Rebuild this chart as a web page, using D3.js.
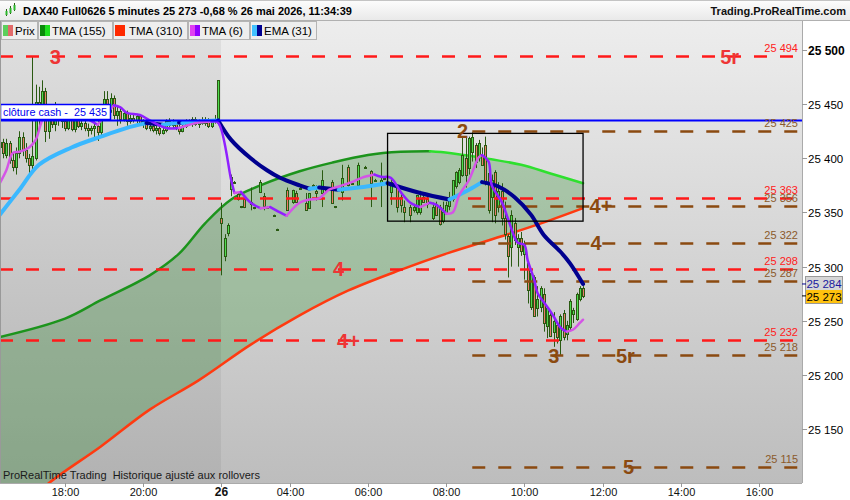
<!DOCTYPE html>
<html><head><meta charset="utf-8">
<script src="https://cdn.jsdelivr.net/npm/d3@7"></script>
<style>body{margin:0;background:#fff;} svg{display:block;font-family:"Liberation Sans",Arial,sans-serif;} text.pre{white-space:pre;}</style>
</head><body><svg id="c" width="850" height="500"></svg>
<script>
// ---------------- DATA ----------------
const firstBar = -20; // bar index of first candle (5-minute bars, 18:00 = bar 0)
const candles = [
[25410,25420,25395,25415],[25415,25418,25400,25405],[25403,25418,25400,25414],[25414,25416,25395,25398],
[25398,25405,25388,25392],[25392,25410,25385,25405],[25405,25425,25400,25420],[25420,25424,25402,25408],
[25408,25414,25396,25400],[25400,25404,25382,25394],[25394,25494,25388,25402],[25400,25468,25398,25452],
[25452,25466,25430,25440],[25440,25472,25436,25462],[25462,25465,25415,25425],[25425,25450,25418,25445],
[25445,25448,25428,25432],[25432,25452,25425,25448],[25448,25450,25430,25436],[25436,25440,25428,25434],
[25434,25438,25425,25428],[25428,25440,25426,25438],[25438,25440,25425,25427],[25427,25438,25424,25436],
[25436,25437,25428,25430],[25430,25436,25426,25433],[25433,25435,25425,25428],[25428,25432,25420,25426],
[25426,25430,25422,25428],[25428,25434,25418,25430],[25430,25435,25416,25424],[25424,25440,25420,25438],
[25438,25462,25436,25455],[25455,25462,25440,25447],[25447,25460,25442,25456],[25456,25458,25436,25440],
[25440,25448,25430,25444],[25444,25446,25432,25436],[25436,25444,25434,25442],[25442,25444,25430,25434],
[25434,25440,25432,25437],[25437,25440,25433,25435],[25435,25441,25432,25439],[25439,25440,25430,25432],
[25432,25436,25428,25434],[25434,25436,25426,25428],[25428,25434,25425,25430],[25430,25432,25424,25426],
[25426,25430,25422,25428],[25428,25430,25421,25423],[25423,25428,25422,25426],[25426,25436,25424,25434],
[25434,25437,25429,25431],[25431,25436,25428,25433],[25433,25434,25426,25428],[25428,25431,25422,25425],
[25425,25432,25424,25430],[25430,25436,25428,25434],[25434,25436,25430,25432],[25432,25438,25429,25436],
[25436,25438,25430,25432],[25432,25436,25428,25434],[25434,25438,25431,25433],[25433,25438,25430,25436],
[25436,25437,25428,25430],[25430,25436,25428,25434],[25434,25440,25432,25436],[25436,25472,25434,25472],
// day 26
[25345,25359,25292,25340],[25310,25330,25305,25326],[25331,25340,25328,25338],[25372,25385,25365,25383],
[25378,25379,25377,25378],[25367,25368,25361,25362],[25356,25356,25354,25355],[25362,25363,25354,25355],
null,[25360,25373,25352,25358],[25355,25355,25353,25354],null,
[25369,25380,25368,25378],[25365,25368,25352,25356],[25355,25356,25354,25355],null,
[25348,25348,25346,25347],[25335,25335,25333,25334],null,null,
[25371,25373,25352,25352],null,[25360,25371,25358,25371],[25368,25370,25360,25360],
[25373,25374,25372,25373],null,[25359,25368,25352,25352],[25354,25368,25354,25368],
[25375,25376,25374,25375],[25370,25375,25361,25368],null,[25368,25389,25355,25380],
[25371,25372,25370,25371],null,[25378,25380,25359,25359],[25356,25356,25354,25355],
null,[25369,25394,25361,25382],null,[25392,25394,25374,25375],
[25377,25378,25376,25377],null,[25375,25396,25374,25394],null,
[25392,25393,25391,25392],null,[25388,25389,25355,25377],[25380,25381,25379,25380],
null,[25376,25396,25355,25380],[25382,25383,25381,25382],null,
[25369,25382,25357,25378],null,[25373,25376,25350,25355],[25364,25369,25350,25357],
[25355,25361,25341,25350],null,[25355,25357,25341,25348],[25352,25358,25350,25355],
[25350,25366,25348,25366],[25350,25370,25348,25362],[25364,25366,25360,25360],[25362,25368,25354,25358],
null,[25345,25359,25343,25355],[25358,25360,25347,25348],[25355,25357,25338,25339],
[25342,25360,25340,25350],[25350,25360,25348,25357],[25356,25369,25352,25362],[25362,25380,25360,25380],
[25374,25388,25372,25387],[25378,25391,25376,25389],[25385,25419,25383,25403],[25400,25419,25373,25385],
[25391,25420,25385,25419],[25406,25424,25397,25420],[25412,25414,25391,25397],[25403,25417,25397,25414],
[25403,25410,25393,25394],[25412,25420,25375,25378],[25386,25391,25349,25352],[25364,25385,25341,25380],
[25387,25389,25340,25348],[25355,25378,25350,25370],[25370,25377,25338,25345],[25345,25360,25325,25330],
[25328,25330,25290,25310],[25318,25352,25300,25348],[25340,25345,25320,25325],[25318,25330,25300,25326],
[25326,25332,25310,25314],[25312,25324,25288,25322],[25303,25306,25266,25278],[25263,25294,25260,25294],
[25290,25292,25254,25254],[25262,25282,25254,25270],[25263,25282,25258,25280],[25275,25280,25240,25248],
[25245,25263,25234,25262],[25255,25258,25235,25236],[25240,25258,25226,25250],[25246,25248,25229,25235],
[25232,25256,25218,25254],[25257,25260,25232,25235],[25238,25250,25232,25246],[25244,25270,25241,25268],
[25256,25262,25248,25260],[25252,25276,25250,25275],[25270,25282,25268,25280],[25280,25282,25271,25273]
];

// indicators: [bar, value]
const tma155 = [[-20,25235],[0,25252],[11,25269],[26,25292],[35,25312],[43,25340],[51,25362],[60,25375],
  [72,25388],[82,25396],[93,25403],[103,25406],[112,25406.5],[118,25405],[127,25401],[140,25394],[149,25386],[159,25377]];
const tma310 = [[-20,25064],[-11,25082],[-5,25100],[11,25134],[26,25168],[41,25195],[57,25228],[72,25255],
  [87,25278],[103,25297],[118,25313],[134,25328],[149,25343],[159,25354]];
const ema31 = [[-20,25348],[-14,25371],[-8,25394],[2,25410],[11,25420],[20,25429],[25,25432.5],[30,25431],
  [35,25433],[36,25432.5],[41,25434],[47,25435],[51,25417],[57,25400],[62,25389],[66,25382],[72,25375],
  [75,25372],[78,25373],[84,25371],[90,25373],[99,25377],[109,25368],[118,25362],[124,25371],[128,25378],
  [133,25374],[138,25364],[143,25348],[147,25329],[152,25314],[155,25303],[159,25284]];
const tma6 = [[-20,25377],[-18,25389],[-16,25405],[-14,25406],[-11,25410],[-9,25417],[-7,25435],[-5,25443],
  [1,25446],[6,25438],[10,25431],[13,25442],[15,25449],[17,25447],[19,25442],[23,25440],[26,25435],[31,25428],
  [35,25428],[41,25433],[45,25434],[47,25433],[51,25380],[52,25368],[54,25369],[57,25359],[60,25354],[63,25355],
  [66,25350],[68,25347],[72,25359],[75,25362],[78,25363],[81,25371],[84,25374],[88,25378],[91,25382],[95,25385],
  [97,25383],[100,25382],[103,25369],[106,25359],[109,25355],[112,25359],[114,25357],[117,25349],[119,25350],
  [121,25366],[124,25380],[127,25401],[128,25403],[130,25397],[131,25375],[134,25360],[136,25344],[138,25327],
  [139,25322],[141,25320],[142,25306],[144,25288],[145,25276],[148,25263],[150,25254],[152,25244],[154,25240],
  [156,25242],[158,25248],[159,25251]];

// horizontal levels
const redLevels = [25494, 25363, 25298, 25232];
const redTags = [[["3",-3],["5r",204]], [], [["4",84]], [["4+",87]]];
const brownLevels = [25425, 25356, 25322, 25287, 25218, 25115];
const brownTags = [[["2",122]], [["4+",164.5]], [["4",163]], [], [["3",150],["5r",172]], [["5",173]]];
const brownStartBar = 125;
const cashClose = 25435;
const lastEma = 25284, lastPrice = 25273;
const boxBars = [99, 159], boxPrices = [25423, 25342];
const priceTicks = [25150, 25200, 25250, 25300, 25350, 25400, 25450, 25500];
const timeTickBars = [0, 24, 48, 69, 93, 117, 141, 165, 189, 213];
const timeTickLabels = ["18:00","20:00","26","04:00","06:00","08:00","10:00","12:00","14:00","16:00"];
const dayStartBar = 48;
const legendNames = ["Prix","TMA (155)","TMA (310)","TMA (6)","EMA (31)"];
const legendColors = [["#5ccf5c","#e26a6a"],["#0a8a0a","#1ee01e"],["#ff2a00"],["#e040f0","#9000ff"],["#40c0ff","#000090"]];
const title = "DAX40 Full0626 5 minutes 25 273 -0,68 % 26 mai 2026, 11:34:39";

// ---------------- DRAW ----------------
const svg = d3.select("#c");
const PR = 802, PT = 21, PB = 483;
const xs = d3.scaleLinear().domain([-19.95, 226.2]).range([0, 802]);
const ys = d3.scaleLinear().domain([25100.3, 25509.2]).range([483, 40]);
const loc = d3.formatLocale({decimal:",", thousands:" ", grouping:[3], currency:["",""]});
const fmt = loc.format(",d");

const defs = svg.append("defs");
const g1 = defs.append("linearGradient").attr("id","bg").attr("x1",0).attr("y1",0).attr("x2",0).attr("y2",1);
g1.append("stop").attr("offset","0%").attr("stop-color","#ededed");
g1.append("stop").attr("offset","100%").attr("stop-color","#bdbdbd");
const g2 = defs.append("linearGradient").attr("id","hd").attr("x1",0).attr("y1",0).attr("x2",0).attr("y2",1);
g2.append("stop").attr("offset","0%").attr("stop-color","#fdfdfd");
g2.append("stop").attr("offset","100%").attr("stop-color","#e9e9e9");
defs.append("clipPath").attr("id","clip").append("rect").attr("x",0).attr("y",PT).attr("width",PR).attr("height",PB-PT);

svg.append("rect").attr("width",850).attr("height",500).attr("fill","#fff");
// plot bg
svg.append("rect").attr("x",0).attr("y",PT).attr("width",PR).attr("height",PB-PT).attr("fill","url(#bg)");

const plot = svg.append("g").attr("clip-path","url(#clip)");
const curve = d3.curveCatmullRom.alpha(0.5);
const line = d3.line().x(d=>xs(d[0])).y(d=>ys(d[1])).curve(curve);

// cloud fill between TMA155 and TMA310
const cloudPath = line(tma155) + "L" + line(tma310.slice().reverse()).slice(1) + "Z";
plot.append("path").attr("d", cloudPath).attr("fill","#2f8f2f").attr("fill-opacity",0.3);

// previous session shading
plot.append("rect").attr("x",0).attr("y",PT).attr("width",Math.round(xs(dayStartBar))).attr("height",PB-PT)
  .attr("fill","#000").attr("fill-opacity",0.055);

function runs(pts){
  const out=[]; let cur=null; let prevUp=true;
  for(let k=1;k<pts.length;k++){
    const d=pts[k][1]-pts[k-1][1];
    const up = d>0 ? true : d<0 ? false : prevUp;
    if(!cur || cur.up!==up){ cur={up, pts:[pts[k-1]]}; out.push(cur); }
    cur.pts.push(pts[k]); prevUp=up;
  }
  return out;
}
function dirLine(pts, upC, dnC, w){
  runs(pts).forEach(r=>{
    plot.append("path").attr("d",line(r.pts)).attr("fill","none").attr("stroke", r.up?upC:dnC)
      .attr("stroke-width",w).attr("stroke-linecap","round").attr("stroke-linejoin","round");
  });
}

// TMA 310 & 155
plot.append("path").attr("d",line(tma310)).attr("fill","none").attr("stroke","#ff3a10").attr("stroke-width",2.5);
dirLine(tma155, "#1c941c", "#2ee02e", 2.5);

// candles
const cg = plot.append("g");
candles.forEach((c,k)=>{
  if(!c) return;
  const [o,h,l,cl] = c;
  const cx = Math.round(xs(firstBar+k));
  cg.append("line").attr("x1",cx+0.5).attr("x2",cx+0.5).attr("y1",ys(h)).attr("y2",ys(l))
    .attr("stroke","#2a5a12").attr("stroke-width",1);
  const top = Math.round(ys(Math.max(o,cl))), bot = Math.round(ys(Math.min(o,cl)));
  cg.append("rect").attr("x",cx-1+0.5).attr("y",top+0.5).attr("width",2).attr("height",Math.max(bot-top,1))
    .attr("fill", cl>=o ? "#4fdc4f" : "#ec7a6a").attr("stroke","#2a5a12").attr("stroke-width",1);
});

// horizontal levels
redLevels.forEach(v=>{
  plot.append("line").attr("x1",0).attr("x2",PR).attr("y1",Math.round(ys(v))+0.5).attr("y2",Math.round(ys(v))+0.5)
    .attr("stroke","#ff1a1a").attr("stroke-width",2.6).attr("stroke-dasharray","13,13");
});
brownLevels.forEach(v=>{
  plot.append("line").attr("x1",xs(brownStartBar)).attr("x2",PR).attr("y1",Math.round(ys(v))+0.5).attr("y2",Math.round(ys(v))+0.5)
    .attr("stroke","#8b4a10").attr("stroke-width",2.6).attr("stroke-dasharray","13,13");
});

// EMA 31 and TMA 6
dirLine(ema31, "#3ab8ff", "#00008f", 4);
dirLine(tma6, "#d455e6", "#9020ff", 2.5);

// cash close line
plot.append("line").attr("x1",0).attr("x2",PR).attr("y1",ys(cashClose)).attr("y2",ys(cashClose))
  .attr("stroke","#0000ff").attr("stroke-width",2);

// box
plot.append("rect").attr("x",xs(boxBars[0])).attr("y",ys(boxPrices[0]))
  .attr("width",xs(boxBars[1])-xs(boxBars[0])).attr("height",ys(boxPrices[1])-ys(boxPrices[0]))
  .attr("fill","none").attr("stroke","#000").attr("stroke-width",1.3);

// level tags
function tag(t, bar, v, col){
  plot.append("text").attr("x",xs(bar)).attr("y",ys(v)).attr("dy","0.36em").attr("text-anchor","middle")
    .attr("font-size",20).attr("font-weight","bold").attr("fill",col).text(t);
}
redLevels.forEach((v,i)=>redTags[i].forEach(([t,b])=>tag(t,b,v,"#ee3535")));
brownLevels.forEach((v,i)=>brownTags[i].forEach(([t,b])=>tag(t,b,v,"#8b4a10")));

// right-side level values
redLevels.forEach(v=>svg.append("text").attr("x",798).attr("y",Math.round(ys(v))-4).attr("text-anchor","end")
  .attr("font-size",11).attr("fill","#ff2020").text(fmt(v)));
brownLevels.forEach(v=>svg.append("text").attr("x",798).attr("y",Math.round(ys(v))-4).attr("text-anchor","end")
  .attr("font-size",11).attr("fill","#8b5a2b").text(fmt(v)));

// cash close label
svg.append("rect").attr("x",0.5).attr("y",104.5).attr("width",110).attr("height",15).attr("fill","#fff")
  .attr("stroke","#0000ff").attr("stroke-width",1.5);
svg.append("text").attr("class","pre").attr("x",3).attr("y",116).attr("font-size",11.5).attr("fill","#0000ee")
  .attr("textLength",104).attr("lengthAdjust","spacingAndGlyphs")
  .text("clôture cash -  " + fmt(cashClose));

// left border
svg.append("line").attr("x1",0.5).attr("x2",0.5).attr("y1",PT).attr("y2",PB).attr("stroke","#999");

// right axis
svg.append("rect").attr("x",PR).attr("y",PT).attr("width",850-PR).attr("height",PB-PT).attr("fill","#fff");
svg.append("line").attr("x1",PR+0.5).attr("x2",PR+0.5).attr("y1",PT).attr("y2",PB).attr("stroke","#aaa");
priceTicks.forEach(v=>{
  const y = Math.round(ys(v))+0.5;
  svg.append("line").attr("x1",PR).attr("x2",PR+5).attr("y1",y).attr("y2",y).attr("stroke","#999");
  svg.append("text").attr("x",808).attr("y",y+4).attr("font-size",v===25500?12:11.5)
    .attr("font-weight",v===25500?"bold":"normal").attr("fill","#000").text(fmt(v));
});
// price boxes
svg.append("rect").attr("x",805.5).attr("y",276.5).attr("width",37).attr("height",27).attr("fill","none").attr("stroke","#999");
svg.append("rect").attr("x",806).attr("y",277).attr("width",36).attr("height",13).attr("fill","#d6d6d6");
svg.append("rect").attr("x",806).attr("y",290).attr("width",36).attr("height",13).attr("fill","#ffc20e");
svg.append("line").attr("x1",PR).attr("x2",806).attr("y1",ys(lastEma)).attr("y2",ys(lastEma)).attr("stroke","#00008f");
svg.append("line").attr("x1",PR).attr("x2",806).attr("y1",ys(lastPrice)).attr("y2",ys(lastPrice)).attr("stroke","#000");
svg.append("text").attr("x",824).attr("y",287.5).attr("text-anchor","middle").attr("font-size",11.5).attr("fill","#1a1aa0").text(fmt(lastEma));
svg.append("text").attr("x",824).attr("y",300.5).attr("text-anchor","middle").attr("font-size",11.5).attr("fill","#000").text(fmt(lastPrice));

// x axis
svg.append("rect").attr("x",0).attr("y",PB).attr("width",850).attr("height",500-PB).attr("fill","#fff");
svg.append("line").attr("x1",0).attr("x2",PR).attr("y1",PB+0.5).attr("y2",PB+0.5).attr("stroke","#aaa");
timeTickBars.forEach((b,i)=>{
  const x = Math.round(xs(b))+0.5;
  svg.append("line").attr("x1",x).attr("x2",x).attr("y1",PB).attr("y2",PB+4).attr("stroke","#999");
  svg.append("text").attr("x",x).attr("y",496).attr("text-anchor","middle")
    .attr("font-size",timeTickLabels[i]==="26"?12:11).attr("font-weight",timeTickLabels[i]==="26"?"bold":"normal")
    .attr("fill","#111").text(timeTickLabels[i]);
});
svg.append("text").attr("class","pre").attr("x",3).attr("y",479).attr("font-size",11).attr("fill","#1a1a1a")
  .text("ProRealTime Trading  Historique ajusté aux rollovers");

// header
svg.append("rect").attr("x",0).attr("y",0).attr("width",850).attr("height",20).attr("fill","url(#hd)");
svg.append("line").attr("x1",0).attr("x2",850).attr("y1",0.5).attr("y2",0.5).attr("stroke","#c4c4c4");
svg.append("line").attr("x1",0).attr("x2",850).attr("y1",20.5).attr("y2",20.5).attr("stroke","#b0b0b0");
// icon
const ic = svg.append("g");
[[6,9,16,11,14,"#2db82d"],[10,6,14,8,12,"#2db82d"],[14,3,11,5,9,"#2db82d"]].forEach(d=>{
  ic.append("line").attr("x1",d[0]+0.5).attr("x2",d[0]+0.5).attr("y1",d[1]).attr("y2",d[2]).attr("stroke","#2a5a12");
  ic.append("rect").attr("x",d[0]-0.5).attr("y",d[3]).attr("width",2).attr("height",d[4]-d[3]+1).attr("fill",d[5]);
});
svg.append("text").attr("x",23).attr("y",15).attr("font-size",11).attr("font-weight","bold").attr("fill","#000").text(title);
svg.append("text").attr("x",846).attr("y",15).attr("text-anchor","end").attr("font-size",11).attr("font-weight","bold")
  .attr("fill","#111").text("Trading.ProRealTime.com");

// legend
const lx = [1, 38, 113, 188, 250], lw = [36, 74, 74, 61, 66];
legendNames.forEach((n,i)=>{
  svg.append("rect").attr("x",lx[i]+0.5).attr("y",21.5).attr("width",lw[i]).attr("height",18)
    .attr("fill","#eeeeee").attr("stroke","#b4b4b4");
  const cols = legendColors[i];
  const sw = cols.length===1 ? 10 : 5;
  cols.forEach((c,j)=>svg.append("rect").attr("x",lx[i]+2+j*5).attr("y",25).attr("width",sw).attr("height",11).attr("fill",c));
  svg.append("text").attr("x",lx[i]+(cols.length===1?16:14)).attr("y",35).attr("font-size",11.5).attr("fill","#000").text(n);
});
</script></body></html>
